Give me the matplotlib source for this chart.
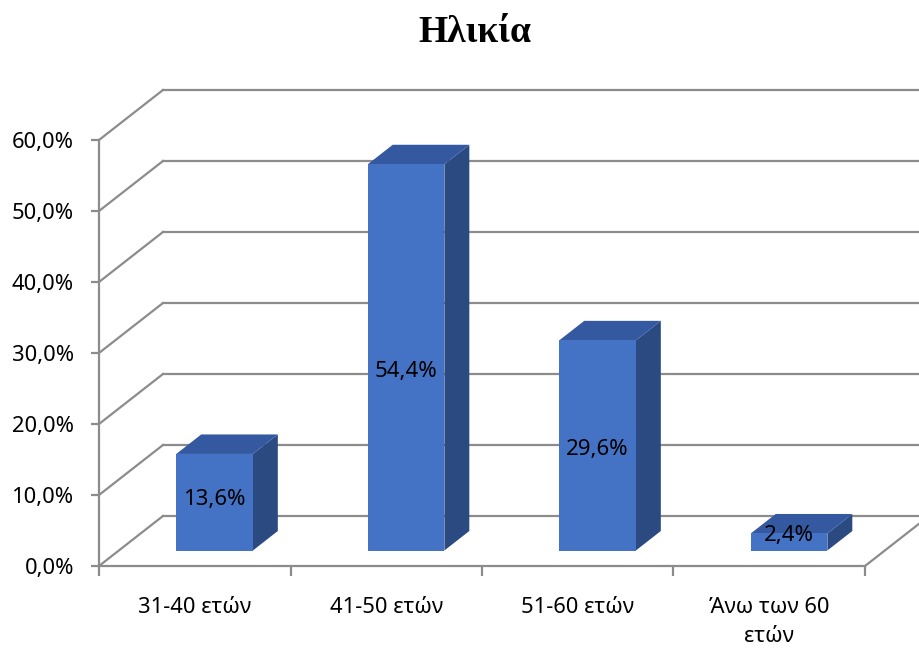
import matplotlib
matplotlib.use('Agg')
import matplotlib.pyplot as plt
from matplotlib.patches import Polygon
from matplotlib.ticker import FixedLocator

plt.rcParams['font.family'] = ['Noto Sans', 'DejaVu Sans']

# age group shares (%)
categories = ['31-40 ετών', '41-50 ετών', '51-60 ετών', 'Άνω των 60\nετών']
values = [13.6, 54.4, 29.6, 2.4]
yticks = [0, 10, 20, 30, 40, 50, 60]
title = 'Ηλικία'

# oblique 3D look: depth offset of the back wall in data units
DX = 0.334   # categories
DY = 7.04    # percent
BAR_W = 0.40
BAR_FRONT = 0.31   # depth fraction of bar front face
BAR_BACK = 0.70    # depth fraction of bar back face
LABEL_FRAC = 0.445  # value label height as a fraction of the bar
LABEL_OFF = 1.07

GRID = '#8c8c8c'
FRONT = '#4472c4'
TOP = '#3459a0'
SIDE = '#2c4a82'
FS = 15.8


def fmt(v):
    return f'{v:.1f}%'.replace('.', ',')


fig = plt.figure(figsize=(9.19, 6.5), dpi=100)
ax = fig.add_axes([99 / 919, 84 / 650, 766 / 919, 426 / 650])
n = len(categories)
ax.set_xlim(0, n)
ax.set_ylim(yticks[0], yticks[-1])

# walls: left diagonals + back gridlines
for v in yticks:
    ax.plot([0, DX], [v, v + DY], color=GRID, lw=1.6, clip_on=False, zorder=1)
    ax.plot([DX, n + DX + 1], [v + DY, v + DY], color=GRID, lw=1.6,
            clip_on=False, zorder=1)
ax.plot([n, n + DX], [0, DY], color=GRID, lw=1.6, clip_on=False, zorder=1)

# bars
for i, v in enumerate(values):
    x0 = i + 0.5 - BAR_W / 2 + BAR_FRONT * DX
    x1 = x0 + BAR_W
    y0 = BAR_FRONT * DY
    y1 = y0 + v
    ddx = (BAR_BACK - BAR_FRONT) * DX
    ddy = (BAR_BACK - BAR_FRONT) * DY
    front = Polygon([(x0, y0), (x1, y0), (x1, y1), (x0, y1)], closed=True,
                    fc=FRONT, ec='none', zorder=4, clip_on=False)
    top = Polygon([(x0, y1), (x1, y1), (x1 + ddx, y1 + ddy), (x0 + ddx, y1 + ddy)],
                  closed=True, fc=TOP, ec='none', zorder=3, clip_on=False)
    side = Polygon([(x1, y0), (x1 + ddx, y0 + ddy), (x1 + ddx, y1 + ddy), (x1, y1)],
                   closed=True, fc=SIDE, ec='none', zorder=3, clip_on=False)
    for p in (side, top, front):
        ax.add_patch(p)
    ax.text((x0 + x1) / 2, y0 + LABEL_OFF + LABEL_FRAC * v, fmt(v),
            ha='center', va='center', fontsize=16, color='black', zorder=5)

# axes
for s in ('top', 'right'):
    ax.spines[s].set_visible(False)
for s in ('left', 'bottom'):
    ax.spines[s].set_color(GRID)
    ax.spines[s].set_linewidth(1.6)
    ax.spines[s].set_zorder(2)

ax.yaxis.set_major_locator(FixedLocator(yticks))
ax.set_yticklabels([fmt(v) for v in yticks])
ax.tick_params(axis='y', length=6, width=1.6, color=GRID, labelsize=FS,
               pad=12, labelcolor='black')

ax.xaxis.set_major_locator(FixedLocator(list(range(n + 1))))
ax.xaxis.set_minor_locator(FixedLocator([i + 0.5 for i in range(n)]))
ax.set_xticklabels([''] * (n + 1))
ax.set_xticklabels(categories, minor=True)
ax.tick_params(axis='x', which='major', length=7, width=1.6, color=GRID)
ax.tick_params(axis='x', which='minor', length=0, labelsize=FS, pad=22,
               labelcolor='black')
for lbl in ax.get_xticklabels(minor=True):
    lbl.set_linespacing(1.5)
ax.set_facecolor('none')

fig.text(475 / 919, 1 - 33 / 650, title, ha='center', va='center',
         family='Liberation Serif', weight='bold', fontsize=27)

fig.savefig('out.png', dpi=100)
